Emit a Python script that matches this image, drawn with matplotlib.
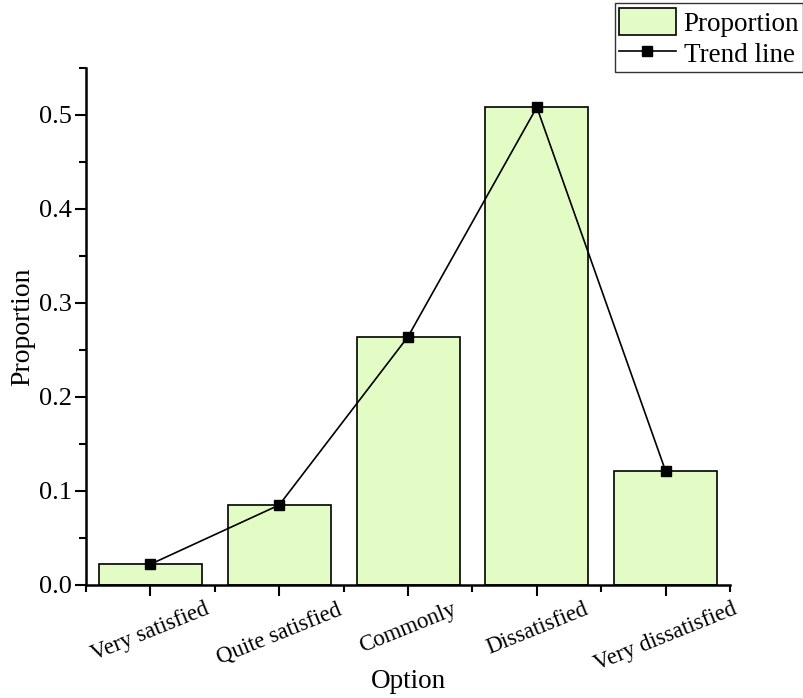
import matplotlib
matplotlib.use('Agg')
import matplotlib.pyplot as plt
from matplotlib.ticker import MultipleLocator

options = ['Very satisfied', 'Quite satisfied', 'Commonly', 'Dissatisfied', 'Very dissatisfied']
proportion = [0.022, 0.085, 0.264, 0.508, 0.121]

plt.rcParams['font.family'] = ['Liberation Serif', 'DejaVu Serif']

fig = plt.figure(figsize=(8.04, 6.98), dpi=100)
ax = fig.add_axes([0.107, 0.162, 0.801, 0.741])

x = list(range(len(options)))
bars = ax.bar(x, proportion, width=0.8, color='#e3fbc4', edgecolor='black',
              linewidth=1.2, label='Proportion', zorder=2)
line, = ax.plot(x, proportion, color='black', linewidth=1.2, marker='s',
                markersize=7, label='Trend line', zorder=3)

ax.set_xlim(-0.5, 4.5)
ax.set_ylim(0, 0.55)
ax.set_xticks(x)
ax.set_xticklabels(options, rotation=22, ha='center', fontsize=16.5)
ax.xaxis.set_minor_locator(MultipleLocator(1, offset=0.5))
ax.yaxis.set_major_locator(MultipleLocator(0.1))
ax.yaxis.set_minor_locator(MultipleLocator(0.05))
ax.yaxis.set_major_formatter(matplotlib.ticker.FormatStrFormatter('%.1f'))
ax.tick_params(axis='y', labelsize=19, pad=2)
ax.tick_params(axis='x', pad=2)
ax.tick_params(which='major', direction='out', length=8, width=1.5)
ax.tick_params(which='minor', direction='out', length=5, width=1.5)

for s in ['top', 'right']:
    ax.spines[s].set_visible(False)
for s in ['left', 'bottom']:
    ax.spines[s].set_linewidth(1.8)

ax.set_xlabel('Option', fontsize=19.5)
ax.xaxis.set_label_coords(0.5, -0.162)
ax.set_ylabel('Proportion', fontsize=20, labelpad=3)

leg = fig.legend(handles=[bars, line], loc='upper right', bbox_to_anchor=(0.999, 0.995),
                 fontsize=19.5, frameon=True, fancybox=False, edgecolor='black',
                 borderpad=0.15, handlelength=2.1, handleheight=1.2, handletextpad=0.3,
                 labelspacing=0.1, borderaxespad=0)
leg.get_frame().set_linewidth(1.0)

fig.savefig('out.png', dpi=100)
